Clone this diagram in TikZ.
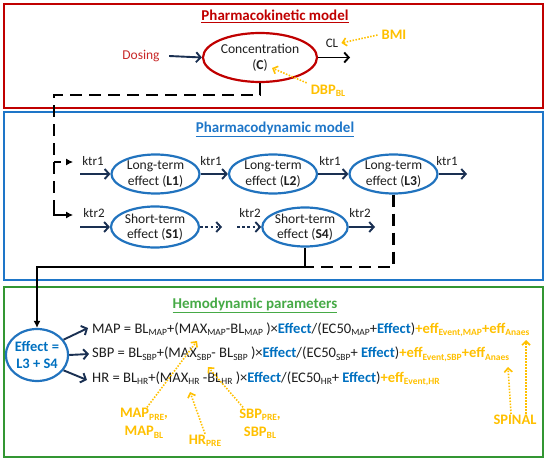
\documentclass[tikz,border=0pt]{standalone}
\usepackage{fontspec}
\setmainfont{Carlito}
\usetikzlibrary{arrows.meta,shapes.geometric}
\definecolor{pkred}{RGB}{192,0,0}
\definecolor{dosred}{RGB}{200,40,40}
\definecolor{pdblue}{RGB}{30,118,200}
\definecolor{elblue}{RGB}{33,115,190}
\definecolor{effblue}{RGB}{0,112,192}
\definecolor{hgreen}{RGB}{50,150,50}
\definecolor{tgreen}{RGB}{70,170,70}
\definecolor{gold}{RGB}{255,192,0}
\definecolor{navy}{RGB}{26,48,82}
\definecolor{txt}{RGB}{30,30,30}
\newcommand\dn[1]{\raisebox{-0.35ex}{\fontsize{9.5}{10}\selectfont #1}}
\newcommand\ef{\textcolor{effblue}{\textbf{Effect}}}
\begin{document}
\begin{tikzpicture}[x=1pt,y=-1pt,font=\fontsize{13}{15}\selectfont,
  panel/.style={line width=2.4pt},
  ell/.style={ellipse,draw=elblue,line width=2.2pt,inner sep=0pt,minimum width=88pt,minimum height=39pt,align=center,text=txt,font=\fontsize{13.6}{15.5}\selectfont},
  ttl/.style={font=\fontsize{15}{17}\selectfont\bfseries},
  lbl/.style={text=txt,inner sep=1pt},
  arr/.style={draw=navy,line width=1.9pt,-{Straight Barb[length=4.5pt,width=10pt]}},
  dotnav/.style={arr,dash pattern=on 2.6pt off 2.6pt},
  dsh/.style={draw=black,line width=2.4pt,dash pattern=on 12pt off 7pt},
  dotarr/.style={draw=gold,line width=1.6pt,dash pattern=on 1.5pt off 1.5pt,-{Straight Barb[length=4pt,width=8pt]}},
  gl/.style={text=gold,font=\fontsize{14.5}{18}\selectfont\bfseries,align=center,inner sep=1pt},
  eq/.style={anchor=west,inner sep=0pt,text=txt,font=\fontsize{14.6}{16}\selectfont}]
\useasboundingbox (0,0) rectangle (550,460);
% panels
\draw[panel,draw=pkred] (4,4) rectangle (543,108);
\draw[panel,draw=pdblue] (4,112) rectangle (543,280);
\draw[panel,draw=hgreen] (4,287) rectangle (543,457);
% titles
\node[ttl,text=pkred] (pkt) at (275,16) {\underline{Pharmacokinetic model}};
\node[ttl,text=pdblue] (pdt) at (275,129) {\underline{Pharmacodynamic model}};
\node[ttl,text=tgreen] (hdt) at (255,305) {\underline{Hemodynamic parameters}};
% PK
\node[ell,draw=pkred,minimum width=114pt,minimum height=49pt] (C) at (260,57.5) {Concentration\\(\textbf{C})};
\node[text=dosred,font=\fontsize{13.5}{15}\selectfont] (dos) at (141,56) {Dosing};
\draw[arr] ([xshift=6pt]dos.east) -- (C.west);
\coordinate (clend) at (350,57.5);
\draw[arr,draw=black] (C.east) -- (clend);
\node[lbl] (cl) at (332,43) {CL};
\node[gl] (bmi) at (394,35) {BMI};
\draw[dotarr] ([xshift=-3pt]bmi.west) -- ([xshift=2pt]cl.east);
\node[gl] (dbp) at (328,91) {DBP\dn{BL}};
\coordinate (ctip) at (272,68);
\draw[dotarr] ([xshift=-3pt,yshift=1pt]dbp.north west) -- (ctip);
% dashed link PK -> PD
\coordinate (br1) at (54,162);
\coordinate (br2) at (54,215);
\coordinate (tip1) at (73,162);
\coordinate (tip2) at (73,215);
\draw[dsh] (C.south) |- (54,95) -- (54,204);
\draw[line width=2.4pt] (54,203) -- (br2) -- (66,215);
\draw[draw=black,line width=1pt,-{Latex[length=7pt,width=7pt]}] (64,215) -- (tip2);
\draw[line width=2.4pt] (br1) -- (61,162);
\draw[draw=black,line width=1pt,-{Latex[length=7pt,width=7pt]}] (66,162) -- (tip1);
% PD long-term
\node[ell] (L1) at (155.5,174) {Long-term\\effect (\textbf{L1})};
\node[ell] (L2) at (273,174) {Long-term\\effect (\textbf{L2})};
\node[ell] (L3) at (393.5,174) {Long-term\\effect (\textbf{L3})};
\coordinate (k1in) at (80,174);
\coordinate (k1out) at (467,174);
\draw[arr] (k1in) -- (L1.west);
\draw[arr] (L1.east) -- (L2.west);
\draw[arr] (L2.east) -- (L3.west);
\draw[arr] (L3.east) -- (k1out);
\node[lbl] (ka) at (93,161) {ktr1};
\node[lbl] (kb) at (211,161) {ktr1};
\node[lbl] (kc) at (330,161) {ktr1};
\node[lbl] (kd) at (447,161) {ktr1};
% PD short-term
\node[ell,minimum height=41pt] (S1) at (155,227) {Short-term\\effect (\textbf{S1})};
\node[ell,minimum width=84pt,minimum height=39pt] (S4) at (305,227) {Short-term\\effect (\textbf{S4})};
\coordinate (k2in) at (80,227);
\coordinate (d1) at (222,227);
\coordinate (d2) at (237,227);
\coordinate (k2out) at (375,227);
\draw[arr] (k2in) -- (S1.west);
\draw[dotnav] (S1.east) -- (d1);
\draw[dotnav] (d2) -- (S4.west);
\draw[arr] (S4.east) -- (k2out);
\node[lbl] (ke) at (94,213) {ktr2};
\node[lbl] (kf) at (250,213) {ktr2};
\node[lbl] (kg) at (360,213) {ktr2};
% link PD -> effect
\node[ell,minimum width=62pt,minimum height=52pt,text=effblue,font=\fontsize{14.5}{17}\selectfont\bfseries] (E) at (37,355) {Effect =\\L3 + S4};
\coordinate (j) at (305,267);
\draw[dsh] (L3.south) |- (j);
\draw[line width=2.4pt,-{Latex[length=7pt,width=7pt]}] (S4.south) -- (j) -| (E.north);
% equations
\node[eq] (eq1) at (92,330) {MAP = BL\dn{MAP}+(MAX\dn{MAP}-BL\dn{MAP} )×\ef/(EC50\dn{MAP}+\ef)\textcolor{gold}{\textbf{+eff\dn{Event,MAP}+eff\dn{Anaes}}}};
\node[eq] (eq2) at (92,354.5) {SBP = BL\dn{SBP}+(MAX\dn{SBP}- BL\dn{SBP} )×\ef/(EC50\dn{SBP}+ \ef)\textcolor{gold}{\textbf{+eff\dn{Event,SBP}+eff\dn{Anaes}}}};
\node[eq] (eq3) at (92,379) {HR = BL\dn{HR}+(MAX\dn{HR} -BL\dn{HR} )×\ef/(EC50\dn{HR}+ \ef)\textcolor{gold}{\textbf{+eff\dn{Event,HR}}}};
\coordinate (m1) at (88,328);
\coordinate (m2) at (89,354);
\coordinate (m3) at (87,380);
\draw[arr] (E.30) -- (m1);
\draw[arr] (E.east) -- (m2);
\draw[arr] (E.-30) -- (m3);
% covariates
\node[gl] (mapl) at (144,423.5) {MAP\dn{PRE},\\MAP\dn{BL}};
\node[gl] (hrl) at (205,441) {HR\dn{PRE}};
\node[gl] (sbpl) at (260,423.5) {SBP\dn{PRE},\\SBP\dn{BL}};
\node[gl] (spin) at (515,420) {SPINAL};
\coordinate (t1) at (197,341);
\coordinate (t2) at (190,392);
\coordinate (t3) at (208,367);
\coordinate (t4) at (508,367);
\coordinate (t5) at (526,340);
\draw[dotarr] ([xshift=3pt]mapl.north) -- (t1);
\draw[dotarr] (hrl.north) -- (t2);
\draw[dotarr] ([xshift=5pt]sbpl.north west) -- (t3);
\draw[dotarr] ([xshift=-4pt]spin.north) -- (t4);
\draw[dotarr] ([xshift=11pt]spin.north) -- (t5);
\end{tikzpicture}
\end{document}
